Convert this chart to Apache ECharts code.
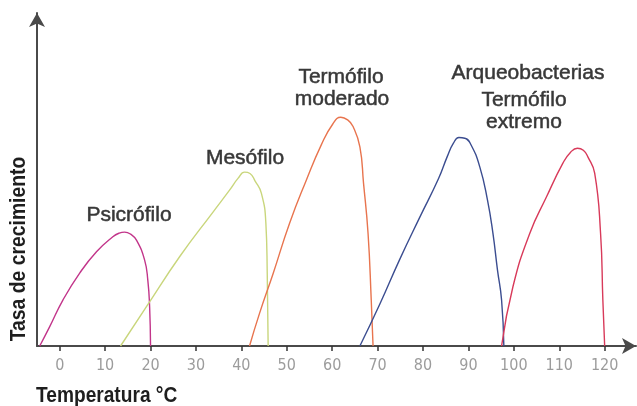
<!DOCTYPE html>
<html>
<head>
<meta charset="utf-8">
<script src="https://cdn.jsdelivr.net/npm/echarts@6/dist/echarts.min.js"></script>
<style>
html,body{margin:0;padding:0;background:#fff;}
#chart{width:637px;height:406px;}
</style>
</head>
<body>
<div id="chart"></div>
<script>
// Tick labels (°C)
const xTicks = [0, 10, 20, 30, 40, 50, 60, 70, 80, 90, 100, 110, 120];

// Growth-rate curves: [temperature °C, relative growth rate]
const psicrofilo = [[-4.4,0],[-2.2,5.8],[0.7,13.8],[4.4,21.9],[8.1,28.3],[11.7,32.8],[13.1,33.9],[14.3,34.2],[15.6,33.6],[16.9,31.8],[18.7,25.8],[19.4,19.8],[19.8,11.8],[20.0,0]];
const mesofilo = [[13.4,0],[19.1,11.8],[26.4,26.8],[33.8,40.3],[37.4,46.8],[39.3,50.4],[40.7,52.2],[41.9,51.8],[43.0,49.6],[44.4,45.9],[45.4,36.8],[45.7,21.8],[45.9,0]];
const termofiloModerado = [[41.8,0],[44.0,9.8],[47.0,21.8],[50.6,36.8],[54.3,49.8],[57.6,60.4],[60.1,66.6],[61.9,68.7],[63.4,67.9],[64.6,65.9],[66.1,59.8],[66.9,48.9],[67.9,33.8],[68.6,13.8],[69.0,0]];
const termofiloExtremoA = [[66.1,0],[70.5,12.6],[74.9,26.1],[79.3,38.7],[83.4,50.2],[85.4,57.1],[86.7,60.9],[87.9,62.6],[89.2,62.4],[90.5,60.6],[92.5,53.8],[94.2,43.8],[95.4,33.8],[96.4,22.8],[97.3,13.8],[97.8,0]];
const termofiloExtremoB = [[97.3,0],[99.8,17.8],[103.5,33.8],[107.2,44.8],[110.8,54.9],[112.5,58.2],[114.0,59.4],[115.3,58.8],[116.3,56.8],[117.8,51.9],[119.1,33.8],[119.6,13.8],[120.0,0]];

const seriesNames = ['Psicrófilo','Mesófilo','Termófilo moderado','Arqueobacterias A','Arqueobacterias B'];
const seriesData = [psicrofilo, mesofilo, termofiloModerado, termofiloExtremoA, termofiloExtremoB];
const seriesColors = ['#c2358a','#c9d67c','#e8744e','#3b4d90','#d83a5a'];

const sansFont = '"Liberation Sans",Arial,sans-serif';
const tickFont = '"DejaVu Sans Condensed","Liberation Sans",sans-serif';

const chart = echarts.init(document.getElementById('chart'), null, {renderer:'canvas'});

function txt(text, x, y) {
  return {
    type: 'text',
    x: x, y: y,
    style: {
      text: text,
      fill: '#383838',
      stroke: '#383838',
      lineWidth: 0.5,
      font: '21px ' + sansFont,
      textAlign: 'center',
      textVerticalAlign: 'middle'
    }
  };
}

chart.setOption({
  animation: false,
  backgroundColor: '#ffffff',
  grid: {left: 37, right: 1, top: 13, bottom: 60},
  xAxis: {
    type: 'value',
    min: -5,
    max: 126.9,
    splitLine: {show: false},
    axisLine: {
      show: true,
      onZero: false,
      symbol: ['none', 'arrow'],
      symbolSize: [12, 14],
      lineStyle: {color: '#4a4a4a', width: 2}
    },
    axisTick: {
      show: true,
      customValues: xTicks,
      length: 5,
      lineStyle: {color: '#333', width: 1.5}
    },
    axisLabel: {
      show: true,
      customValues: xTicks,
      color: '#9c9c9c',
      fontSize: 16,
      fontFamily: tickFont,
      margin: 12
    }
  },
  yAxis: {
    type: 'value',
    min: 0,
    max: 100,
    splitLine: {show: false},
    axisLine: {
      show: true,
      onZero: false,
      symbol: ['none', 'arrow'],
      symbolSize: [12, 14],
      lineStyle: {color: '#4a4a4a', width: 2}
    },
    axisTick: {show: false},
    axisLabel: {show: false}
  },
  series: seriesData.map((d, i) => ({
    name: seriesNames[i],
    type: 'line',
    data: d,
    smooth: 0.5,
    showSymbol: false,
    lineStyle: {color: seriesColors[i], width: 1.4},
    z: 3
  })),
  graphic: [
    txt('Psicrófilo', 129, 215),
    txt('Mesófilo', 245, 158),
    txt('Termófilo', 341, 77.5),
    txt('moderado', 342, 99.5),
    txt('Arqueobacterias', 528, 73.5),
    txt('Termófilo', 524, 100),
    txt('extremo', 524, 122),
    {
      type: 'text', x: 36, y: 395.5, scaleX: 0.87,
      style: {text: 'Temperatura °C', fill: '#1e1e1e', font: 'bold 22px ' + sansFont, textAlign: 'left', textVerticalAlign: 'middle'}
    },
    {
      type: 'text', x: 19, y: 249, rotation: Math.PI / 2, scaleX: 0.88,
      style: {text: 'Tasa de crecimiento', fill: '#1e1e1e', font: 'bold 22px ' + sansFont, textAlign: 'center', textVerticalAlign: 'middle'}
    }
  ]
});
</script>
</body>
</html>
